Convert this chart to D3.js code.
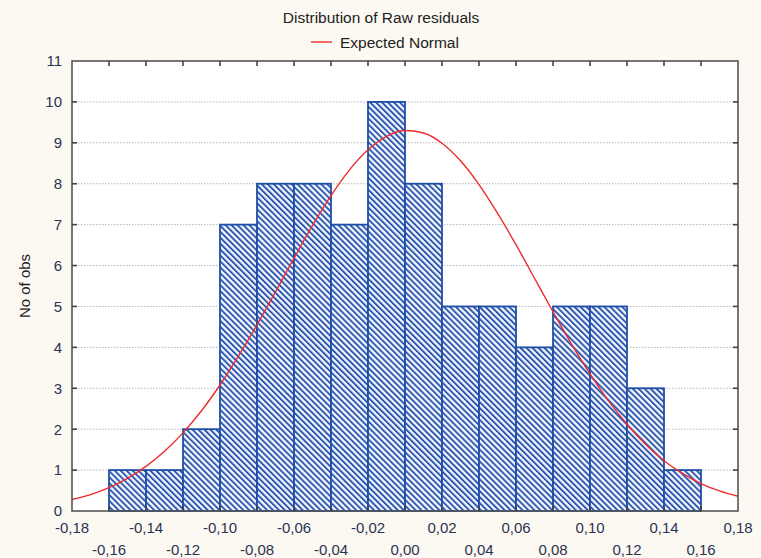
<!DOCTYPE html>
<html lang="en">
<head>
  <meta charset="utf-8">
  <title>Distribution of Raw residuals</title>
  <script src="https://cdn.jsdelivr.net/npm/d3@7"></script>
  <style>
    html, body { margin: 0; padding: 0; background: #fcf9f2; }
    svg { display: block; font-family: "Liberation Sans", Arial, sans-serif; }
  </style>
</head>
<body>
<svg id="chart" width="761" height="558"></svg>
<script>
  // histogram bins (lower edge) and counts
  const binStarts = [-0.16, -0.14, -0.12, -0.10, -0.08, -0.06, -0.04, -0.02,
                     0.00, 0.02, 0.04, 0.06, 0.08, 0.10, 0.12, 0.14];
  const counts = [1, 1, 2, 7, 8, 8, 7, 10, 8, 5, 5, 4, 5, 5, 3, 1];
  const binWidth = 0.02;

  // expected normal curve
  const curveX = [-0.18, -0.17, -0.16, -0.15, -0.14, -0.13, -0.12, -0.11, -0.10,
                  -0.09, -0.08, -0.07, -0.06, -0.05, -0.04, -0.03, -0.02, -0.01,
                  0.00, 0.01, 0.02, 0.03, 0.04, 0.05, 0.06, 0.07, 0.08, 0.09,
                  0.10, 0.11, 0.12, 0.13, 0.14, 0.15, 0.16, 0.17, 0.18];
  const curveY = [0.28, 0.40, 0.57, 0.80, 1.09, 1.46, 1.91, 2.45, 3.08,
                  3.79, 4.55, 5.36, 6.18, 6.98, 7.71, 8.34, 8.83, 9.16,
                  9.30, 9.24, 8.99, 8.56, 7.98, 7.28, 6.51, 5.69, 4.87, 4.08,
                  3.35, 2.69, 2.12, 1.63, 1.23, 0.92, 0.67, 0.49, 0.36];

  const xTicks = [-0.18, -0.16, -0.14, -0.12, -0.10, -0.08, -0.06, -0.04, -0.02,
                  0.00, 0.02, 0.04, 0.06, 0.08, 0.10, 0.12, 0.14, 0.16, 0.18];
  const yTicks = [0, 1, 2, 3, 4, 5, 6, 7, 8, 9, 10, 11];

  const titleText = "Distribution of Raw residuals";
  const legendText = "Expected Normal";
  const yLabel = "No of obs";

  // plot frame
  const margin = { top: 61, right: 23, bottom: 47, left: 72 };
  const W = 761, H = 558;
  const width = W - margin.left - margin.right,
        height = H - margin.top - margin.bottom;

  const barColor = "#1f4ea6";
  const curveColor = "#ee2b2b";
  const textColor = "#2b3354";

  const svg = d3.select("#chart");

  // hatch pattern
  const defs = svg.append("defs");
  const pat = defs.append("pattern")
    .attr("id", "hatch")
    .attr("patternUnits", "userSpaceOnUse")
    .attr("width", 4.2).attr("height", 4.2)
    .attr("patternTransform", "rotate(-45)");
  pat.append("rect").attr("width", 4.2).attr("height", 4.2).attr("fill", "#f4f7fd");
  pat.append("rect").attr("width", 1.9).attr("height", 4.2).attr("fill", "#2c57ae");

  const g = svg.append("g").attr("transform", `translate(${margin.left},${margin.top})`);

  const x = d3.scaleLinear().domain([-0.18, 0.18]).range([0, width]);
  const y = d3.scaleLinear().domain([0, 11]).range([height, 0]);

  const fmt = v => {
    const s = Math.abs(v).toFixed(2).replace(".", ",");
    return (v < -1e-9 ? "-" : "") + s;
  };

  // plot background
  g.append("rect").attr("width", width).attr("height", height).attr("fill", "#fff");

  // dotted grid
  g.selectAll(".grid").data(yTicks.filter(d => d > 0 && d < 11)).enter()
    .append("line")
    .attr("class", "grid")
    .attr("x1", 0).attr("x2", width)
    .attr("y1", d => y(d)).attr("y2", d => y(d))
    .attr("stroke", "#b8b8b8")
    .attr("stroke-width", 1)
    .attr("stroke-dasharray", "1.5,1.5");

  // bars
  const bars = binStarts.map((b, i) => ({ x0: b, x1: b + binWidth, n: counts[i] }));
  g.selectAll(".bar").data(bars).enter()
    .append("rect")
    .attr("class", "bar")
    .attr("x", d => x(d.x0))
    .attr("y", d => y(d.n))
    .attr("width", d => x(d.x1) - x(d.x0))
    .attr("height", d => y(0) - y(d.n))
    .attr("fill", "url(#hatch)")
    .attr("stroke", barColor)
    .attr("stroke-width", 1.8);

  // expected normal curve
  const line = d3.line()
    .x((d, i) => x(curveX[i]))
    .y(d => y(d))
    .curve(d3.curveMonotoneX);
  g.append("path")
    .datum(curveY)
    .attr("fill", "none")
    .attr("stroke", curveColor)
    .attr("stroke-width", 1.4)
    .attr("d", line);

  // frame
  g.append("rect").attr("width", width).attr("height", height)
    .attr("fill", "none").attr("stroke", "#555").attr("stroke-width", 1.6);

  // inward ticks: left/right at y ticks, top/bottom at x ticks
  const yIn = yTicks.filter(d => d > 0 && d < 11);
  const xIn = xTicks.filter(d => d > -0.18 && d < 0.18);
  g.selectAll(".tl").data(yIn).enter().append("line")
    .attr("x1", 0).attr("x2", 5).attr("y1", d => y(d)).attr("y2", d => y(d))
    .attr("stroke", "#444").attr("stroke-width", 1.6);
  g.selectAll(".tr").data(yIn).enter().append("line")
    .attr("x1", width).attr("x2", width - 5).attr("y1", d => y(d)).attr("y2", d => y(d))
    .attr("stroke", "#444").attr("stroke-width", 1.6);
  g.selectAll(".tt").data(xIn).enter().append("line")
    .attr("x1", d => x(d)).attr("x2", d => x(d)).attr("y1", 0).attr("y2", 5)
    .attr("stroke", "#444").attr("stroke-width", 1.6);
  g.selectAll(".tb").data(xIn).enter().append("line")
    .attr("x1", d => x(d)).attr("x2", d => x(d)).attr("y1", height).attr("y2", height - 5)
    .attr("stroke", "#444").attr("stroke-width", 1.6);

  // y tick labels
  g.selectAll(".ylab").data(yTicks).enter().append("text")
    .attr("x", -10).attr("y", d => y(d)).attr("dy", "0.36em")
    .attr("text-anchor", "end")
    .attr("font-size", 15)
    .attr("fill", textColor)
    .text(d => d);

  // x tick labels, staggered in two rows
  g.selectAll(".xlab").data(xTicks).enter().append("text")
    .attr("x", d => x(d))
    .attr("y", (d, i) => height + (i % 2 === 0 ? 22 : 44))
    .attr("text-anchor", "middle")
    .attr("font-size", 15)
    .attr("fill", textColor)
    .text(fmt);

  // axis title
  svg.append("text")
    .attr("transform", `translate(30,${margin.top + height / 2}) rotate(-90)`)
    .attr("text-anchor", "middle")
    .attr("font-size", 15)
    .attr("fill", "#222")
    .text(yLabel);

  // title and legend
  svg.append("text")
    .attr("x", 381).attr("y", 23)
    .attr("text-anchor", "middle")
    .attr("font-size", 15.5)
    .attr("fill", "#222")
    .text(titleText);

  svg.append("line")
    .attr("x1", 311).attr("x2", 332).attr("y1", 42).attr("y2", 42)
    .attr("stroke", curveColor).attr("stroke-width", 1.4);
  svg.append("text")
    .attr("x", 340).attr("y", 48)
    .attr("font-size", 15.5)
    .attr("fill", "#222")
    .text(legendText);
</script>
</body>
</html>
